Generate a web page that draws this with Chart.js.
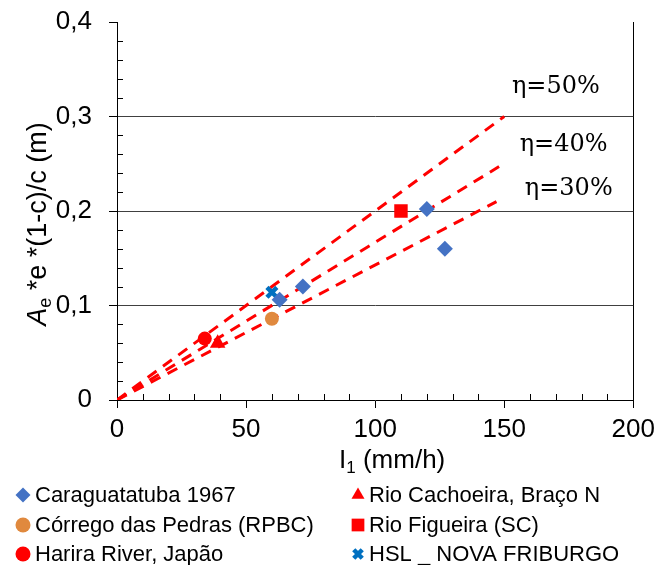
<!DOCTYPE html>
<html lang="pt">
<head>
    <meta charset="UTF-8">
    <script src="https://cdn.jsdelivr.net/npm/chart.js"></script>
    <title>Chart</title>
    <style>
        body { margin: 0; background: #fff; }
        #wrap { width: 661px; height: 565px; }
    </style>
</head>
<body>
    <div id="wrap">
        <canvas id="myChart"></canvas>
    </div>
    <script>
        // observed points
        const caraguaX = [63, 72, 120, 127];
        const caraguaY = [0.106, 0.120, 0.202, 0.160];
        const cachoeiraX = [39];
        const cachoeiraY = [0.060];
        const corregoX = [60];
        const corregoY = [0.086];
        const figueiraX = [110];
        const figueiraY = [0.200];
        const hariraX = [34];
        const hariraY = [0.065];
        const hslX = [60];
        const hslY = [0.114];

        // efficiency lines (start and end)
        const etaNames = ['η=50%', 'η=40%', 'η=30%'];
        const etaLineX = [[0, 150], [0, 148], [0, 147]];
        const etaLineY = [[0, 0.300], [0, 0.247], [0, 0.210]];
        const etaLabelX = [170, 173, 175];
        const etaLabelY = [0.331, 0.270, 0.224];

        const xMin = 0, xMax = 200, xStep = 50, xMinor = 10;
        const yMin = 0, yMax = 0.4, yStep = 0.1, yMinor = 0.02;

        function pts(xs, ys) {
            return xs.map((x, i) => ({ x: x, y: ys[i] }));
        }

        const datasets = [
            { label: 'Caraguatatuba 1967', data: pts(caraguaX, caraguaY), pointStyle: 'rectRot', pointRadius: 8,
              backgroundColor: '#4472C4', borderColor: '#4472C4', borderWidth: 0 },
            { label: 'Rio Cachoeira, Braço N', data: pts(cachoeiraX, cachoeiraY), pointStyle: 'triangle', pointRadius: 9,
              backgroundColor: '#FF0000', borderColor: '#FF0000', borderWidth: 0 },
            { label: 'Córrego das Pedras (RPBC)', data: pts(corregoX, corregoY), pointStyle: 'circle', pointRadius: 7,
              backgroundColor: '#E0893E', borderColor: '#E0893E', borderWidth: 0 },
            { label: 'Rio Figueira (SC)', data: pts(figueiraX, figueiraY), pointStyle: 'rect', pointRadius: 9.5,
              backgroundColor: '#FF0000', borderColor: '#FF0000', borderWidth: 0 },
            { label: 'Harira River, Japão', data: pts(hariraX, hariraY), pointStyle: 'circle', pointRadius: 7,
              backgroundColor: '#FF0000', borderColor: '#FF0000', borderWidth: 0 },
            { label: 'HSL _ NOVA FRIBURGO', data: pts(hslX, hslY), pointStyle: 'crossRot', pointRadius: 7,
              backgroundColor: '#0070C0', borderColor: '#0070C0', borderWidth: 4.5 }
        ];
        etaNames.forEach((name, i) => {
            datasets.push({
                label: name, isLine: true, showLine: true,
                data: pts(etaLineX[i], etaLineY[i]),
                borderColor: '#FF0000', borderWidth: 3, borderDash: [11, 8],
                pointRadius: 0, fill: false
            });
        });

        const extras = {
            id: 'extras',
            afterDraw(chart) {
                const ctx = chart.ctx;
                const xs = chart.scales.x, ys = chart.scales.y;
                const area = chart.chartArea;
                ctx.save();

                // minor ticks inside the plot
                ctx.strokeStyle = '#000';
                ctx.lineWidth = 1;
                ctx.beginPath();
                for (let v = xMin + xMinor; v < xMax; v += xMinor) {
                    if (Math.abs(v % xStep) < 1e-6) continue;
                    const px = Math.round(xs.getPixelForValue(v)) + 0.5;
                    ctx.moveTo(px, area.bottom);
                    ctx.lineTo(px, area.bottom - 6);
                }
                for (let k = 1; k * yMinor < yMax - 1e-9; k++) {
                    const v = k * yMinor;
                    if (k % 5 === 0) continue;
                    const py = Math.round(ys.getPixelForValue(v)) + 0.5;
                    ctx.moveTo(area.left, py);
                    ctx.lineTo(area.left + 6, py);
                }
                ctx.stroke();

                // eta labels
                ctx.fillStyle = '#000';
                ctx.font = '24px "DejaVu Serif"';
                ctx.textAlign = 'center';
                ctx.textBaseline = 'middle';
                etaNames.forEach((name, i) => {
                    ctx.fillText(name, xs.getPixelForValue(etaLabelX[i]), ys.getPixelForValue(etaLabelY[i]));
                });

                // x title: I1 (mm/h)
                ctx.textAlign = 'left';
                ctx.textBaseline = 'alphabetic';
                const big = '26px "Liberation Sans", Arial';
                const small = '17px "Liberation Sans", Arial';
                ctx.font = big;
                const wI = ctx.measureText('I').width;
                const wRest = ctx.measureText(' (mm/h)').width;
                ctx.font = small;
                const w1 = ctx.measureText('1').width;
                let tx = (area.left + area.right) / 2 + 17 - (wI + w1 + wRest) / 2;
                const ty = 468;
                ctx.font = big;
                ctx.fillText('I', tx, ty); tx += wI;
                ctx.font = small;
                ctx.fillText('1', tx, ty + 5); tx += w1;
                ctx.font = big;
                ctx.fillText(' (mm/h)', tx, ty);

                // y title: Ae *e *(1-c)/c (m)
                ctx.translate(46, (area.top + area.bottom) / 2 + 13);
                ctx.rotate(-Math.PI / 2);
                const bigY = '27px "Liberation Sans", Arial';
                const italic = 'italic 27px "Liberation Sans", Arial';
                const smallY = '18px "Liberation Sans", Arial';
                ctx.font = italic;
                const wA = ctx.measureText('A').width;
                ctx.font = smallY;
                const we = ctx.measureText('e').width;
                ctx.font = bigY;
                const restY = ' *e *(1-c)/c (m)';
                const wR = ctx.measureText(restY).width;
                let yx = -(wA + we + wR) / 2;
                ctx.font = italic;
                ctx.fillText('A', yx, 0); yx += wA;
                ctx.font = smallY;
                ctx.fillText('e', yx, 5); yx += we;
                ctx.font = bigY;
                ctx.fillText(restY, yx, 0);
                ctx.restore();

                // legend in two columns
                ctx.save();
                const colMark = [23, 358];
                const colText = [35, 369];
                const rowY = [495, 525, 554];
                ctx.font = '22px "Liberation Sans", Arial';
                ctx.textAlign = 'left';
                ctx.textBaseline = 'middle';
                chart.data.datasets.filter(d => !d.isLine).forEach((d, i) => {
                    const c = i % 2, r = Math.floor(i / 2);
                    ctx.fillStyle = d.backgroundColor;
                    ctx.strokeStyle = d.borderColor;
                    ctx.lineWidth = d.borderWidth;
                    Chart.helpers.drawPoint(ctx, {
                        pointStyle: d.pointStyle,
                        radius: d.pointStyle === 'crossRot' ? 6 : (d.pointStyle === 'rect' ? 9 : 7.5),
                        borderWidth: d.borderWidth,
                        rotation: 0
                    }, colMark[c], rowY[r]);
                    ctx.fillStyle = '#000';
                    ctx.fillText(d.label, colText[c], rowY[r] + 1);
                });
                ctx.restore();
            }
        };

        new Chart(document.getElementById('myChart'), {
            type: 'scatter',
            data: { datasets: datasets },
            options: {
                responsive: true,
                maintainAspectRatio: false,
                animation: false,
                layout: { padding: { top: 22, right: 24, bottom: 0, left: 0 } },
                plugins: {
                    legend: { display: false },
                    tooltip: { enabled: false }
                },
                scales: {
                    x: {
                        type: 'linear',
                        min: xMin, max: xMax,
                        afterFit: s => { s.height = 165; },
                        ticks: {
                            stepSize: xStep,
                            color: '#000',
                            padding: 6,
                            font: { family: '"Liberation Sans", Arial', size: 26 }
                        },
                        grid: {
                            drawOnChartArea: true,
                            color: c => (c.tick && c.tick.value === xMax) ? '#000' : 'rgba(0,0,0,0)',
                            tickColor: '#000',
                            tickLength: 8,
                            lineWidth: 1
                        },
                        border: { color: '#000', width: 1 }
                    },
                    y: {
                        min: yMin, max: yMax,
                        afterFit: s => { s.width = 117; s.paddingTop = 0; s.paddingBottom = 0; },
                        ticks: {
                            stepSize: yStep,
                            color: '#000',
                            padding: 17,
                            font: { family: '"Liberation Sans", Arial', size: 26 },
                            callback: v => v === 0 ? '0' : v.toFixed(1).replace('.', ',')
                        },
                        grid: {
                            color: c => (c.tick && c.tick.value > 0.05 && c.tick.value < yMax - 0.05) ? '#404040' : 'rgba(0,0,0,0)',
                            tickColor: '#000',
                            tickLength: 8,
                            lineWidth: 1
                        },
                        border: { color: '#000', width: 1 }
                    }
                }
            },
            plugins: [extras]
        });
    </script>
</body>
</html>
